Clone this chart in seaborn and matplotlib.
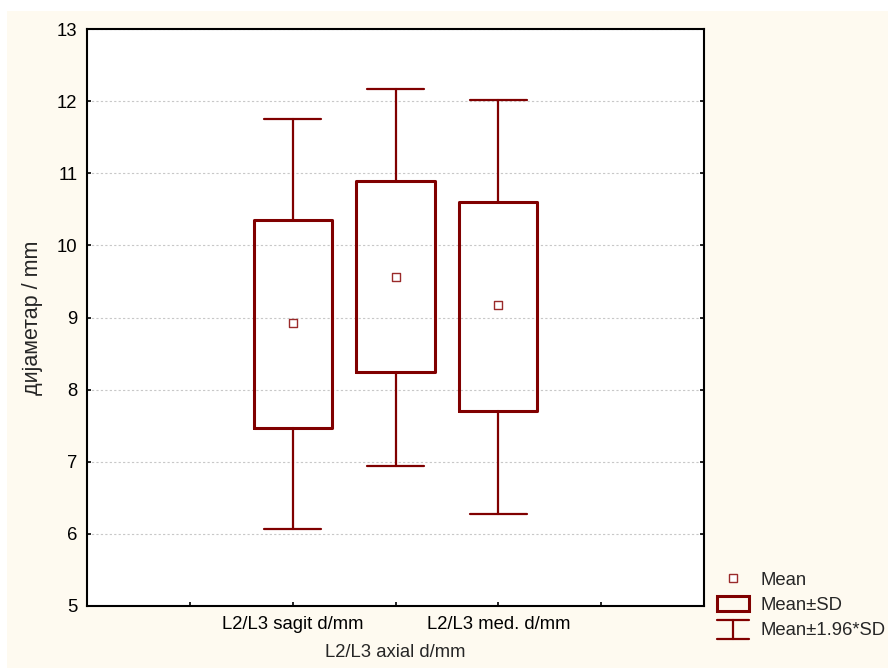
import matplotlib
matplotlib.use('Agg')
import matplotlib.pyplot as plt
import matplotlib.transforms as mtransforms
import seaborn as sns
import numpy as np
import pandas as pd
from matplotlib.patches import Rectangle
from matplotlib.lines import Line2D
from matplotlib.legend_handler import HandlerBase

# ---- data ----
categories = ['L2/L3 sagit d/mm', 'L2/L3 axial d/mm', 'L2/L3 med. d/mm']
means = [8.92, 9.56, 9.17]
sd_low = [7.47, 8.24, 7.71]
sd_high = [10.35, 10.89, 10.60]
ci_low = [6.07, 6.94, 6.28]
ci_high = [11.75, 12.17, 12.01]
y_ticks = [5, 6, 7, 8, 9, 10, 11, 12, 13]
legend_labels = ['Mean', 'Mean±SD', 'Mean±1.96*SD']
y_label = 'дијаметар / mm'

sns.set_style('white')
plt.rcParams['font.family'] = ['Liberation Sans', 'DejaVu Sans']
plt.rcParams['axes.unicode_minus'] = False

MAROON = '#800000'
MEAN_C = '#9a2a2a'
FS = 13.3

fig = plt.figure(figsize=(8.88, 6.68), dpi=100, facecolor='white')
# cream panel
fig.patches.append(Rectangle((7 / 888, 0), 1 - 7 / 888, 1 - 11 / 668,
                             transform=fig.transFigure, facecolor='#fefaf0',
                             edgecolor='none', zorder=-10))

ax = fig.add_axes([87 / 888, 1 - 606 / 668, (704 - 87) / 888, (606 - 29) / 668])
ax.set_facecolor('white')

positions = np.arange(len(categories)) + 2

stats = []
for m, lo, hi, wl, wh in zip(means, sd_low, sd_high, ci_low, ci_high):
    stats.append({'med': m, 'q1': lo, 'q3': hi, 'whislo': wl, 'whishi': wh,
                  'fliers': []})

ax.bxp(stats, positions=positions, widths=0.76, capwidths=0.56,
       showfliers=False, showcaps=True, manage_ticks=False,
       boxprops=dict(color=MAROON, linewidth=2.2),
       whiskerprops=dict(color=MAROON, linewidth=1.6),
       capprops=dict(color=MAROON, linewidth=1.6),
       medianprops=dict(linewidth=0, alpha=0))

df = pd.DataFrame({'pos': positions, 'mean': means})
sns.scatterplot(data=df, x='pos', y='mean', marker='s', s=34,
                facecolor='white', edgecolor=MEAN_C, linewidth=1.0,
                ax=ax, zorder=5, legend=False)

ax.set_xlim(0, 6)
ax.set_ylim(5, 13)
ax.set_yticks(y_ticks)
ax.set_xticks([1, 2, 3, 4, 5])
# alternate rows: odd categories in first row, even in second row
row1 = [c if i % 2 == 0 else '' for i, c in enumerate(categories)]
ax.set_xticklabels([''] + row1 + [''])
trans = mtransforms.blended_transform_factory(ax.transData, ax.transAxes)
for i, c in enumerate(categories):
    if i % 2 == 1:
        ax.text(positions[i], -0.066, c, transform=trans, ha='center',
                va='top', fontsize=FS)
ax.set_xlabel('')
ax.set_ylabel(y_label, fontsize=15.5, labelpad=10)

ax.yaxis.grid(True, color='#c8c8c8', linestyle=(0, (2, 2)), linewidth=0.8)
ax.xaxis.grid(False)
ax.set_axisbelow(True)

for s in ax.spines.values():
    s.set_visible(True)
    s.set_color('black')
    s.set_linewidth(1.5)

ax.tick_params(axis='both', direction='in', length=3, width=1.2,
               colors='black', labelsize=FS)
ax.tick_params(axis='y', right=True, left=True, pad=7)
ax.tick_params(axis='x', bottom=True, top=False, pad=7)


class HandlerIBeam(HandlerBase):
    def create_artists(self, legend, orig_handle, xdescent, ydescent,
                       width, height, fontsize, trans):
        c = orig_handle.get_color()
        lw = orig_handle.get_linewidth()
        x0, x1 = -xdescent, -xdescent + width
        y0, y1 = -ydescent - 2, -ydescent + height + 1
        xm = (x0 + x1) / 2
        return [Line2D([x0, x1], [y1, y1], color=c, lw=lw, transform=trans),
                Line2D([xm, xm], [y0, y1], color=c, lw=lw, transform=trans),
                Line2D([x0, x1], [y0, y0], color=c, lw=lw, transform=trans)]


h_mean = Line2D([], [], marker='s', linestyle='none', markersize=6,
                markerfacecolor='white', markeredgecolor=MEAN_C,
                markeredgewidth=1.0)
h_box = Rectangle((0, 0), 1, 1, facecolor='none', edgecolor=MAROON,
                  linewidth=2.2)
h_ci = Line2D([], [], color=MAROON, linewidth=1.6)

fig.legend([h_mean, h_box, h_ci], legend_labels,
           handler_map={h_ci: HandlerIBeam()},
           loc='lower left', bbox_to_anchor=(717 / 888, 1 - 639 / 668),
           bbox_transform=fig.transFigure, frameon=False, fontsize=FS,
           handlelength=1.75, handleheight=0.9, handletextpad=0.6,
           labelspacing=0.38, borderpad=0, borderaxespad=0)

fig.savefig('out.png', dpi=100, facecolor=fig.get_facecolor())
